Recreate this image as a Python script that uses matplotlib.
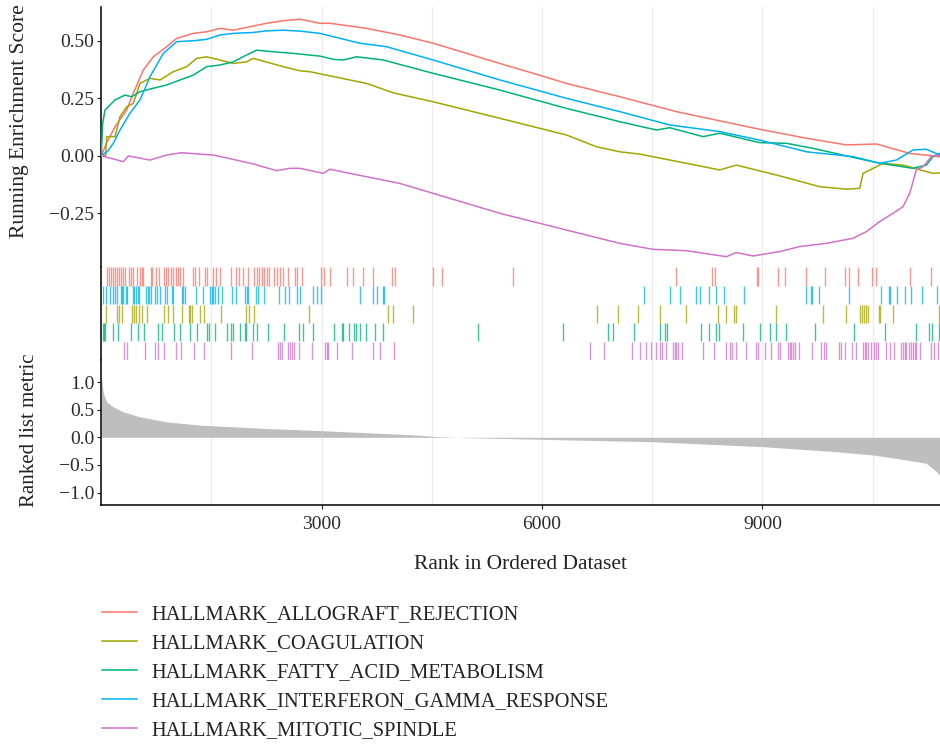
import matplotlib
matplotlib.use("Agg")
import matplotlib.pyplot as plt
from matplotlib.lines import Line2D

plt.rcParams["font.family"] = ["Liberation Serif", "DejaVu Serif"]

# ---- data -------------------------------------------------------------
n_genes = 11410

set_names = [
    "HALLMARK_ALLOGRAFT_REJECTION",
    "HALLMARK_COAGULATION",
    "HALLMARK_FATTY_ACID_METABOLISM",
    "HALLMARK_INTERFERON_GAMMA_RESPONSE",
    "HALLMARK_MITOTIC_SPINDLE",
]
set_colors = ["#F8766D", "#A3A500", "#00B27A", "#00B0F6", "#D072C8"]

# running enrichment score (rank, score)
allograft_rank = [0, 80, 188, 347, 437, 573, 709, 891, 1027, 1253, 1435, 1616, 1797,
                  2069, 2251, 2478, 2705, 2977, 3113, 3612, 4066, 4518, 4973, 5426,
                  5879, 6334, 7058, 7829, 8374, 8963, 9601, 10143, 10551, 11004, 11321, 11410]
allograft_es = [0.0, 0.06, 0.126, 0.199, 0.272, 0.373, 0.431, 0.475, 0.511, 0.533, 0.540,
                0.555, 0.547, 0.565, 0.577, 0.588, 0.595, 0.577, 0.577, 0.555, 0.526,
                0.490, 0.446, 0.402, 0.359, 0.315, 0.257, 0.192, 0.155, 0.115, 0.076,
                0.047, 0.051, 0.010, -0.001, -0.005]

coag_rank = [0, 60, 75, 188, 256, 347, 437, 528, 664, 800, 981, 1163, 1299, 1435, 1616,
             1797, 1979, 2069, 2478, 2705, 2841, 3612, 3975, 4518, 5426, 6334, 6741,
             7058, 7330, 7965, 8418, 8645, 9189, 9779, 10143, 10324, 10369, 10551,
             10641, 10913, 11321, 11410]
coag_es = [0.0, 0.0, 0.083, 0.083, 0.170, 0.213, 0.228, 0.315, 0.337, 0.330, 0.366,
           0.388, 0.424, 0.431, 0.417, 0.402, 0.409, 0.424, 0.388, 0.370, 0.366, 0.315,
           0.274, 0.235, 0.163, 0.090, 0.039, 0.017, 0.007, -0.033, -0.062, -0.041,
           -0.084, -0.135, -0.146, -0.142, -0.077, -0.048, -0.033, -0.041, -0.077,
           -0.075]

fatty_rank = [0, 20, 52, 188, 324, 415, 528, 709, 891, 1072, 1253, 1435, 1616, 1797,
              1979, 2115, 2342, 2614, 2977, 3158, 3294, 3476, 3839, 4518, 5426, 6334,
              6878, 7058, 7557, 7738, 8192, 8418, 8963, 9326, 9689, 10188, 10596, 11049,
              11230, 11321, 11410]
fatty_es = [0.0, 0.141, 0.199, 0.243, 0.264, 0.257, 0.279, 0.294, 0.308, 0.330, 0.351,
            0.388, 0.395, 0.409, 0.439, 0.460, 0.453, 0.446, 0.434, 0.420, 0.417, 0.431,
            0.417, 0.359, 0.286, 0.206, 0.163, 0.148, 0.112, 0.122, 0.083, 0.098, 0.057,
            0.054, 0.032, -0.004, -0.033, -0.055, -0.041, -0.004, 0.010]

ifng_rank = [0, 90, 165, 256, 392, 528, 664, 845, 1027, 1253, 1435, 1616, 1797, 2069,
             2251, 2478, 2705, 2977, 3521, 3884, 4518, 5426, 6334, 7058, 7738, 8418,
             8963, 9601, 10233, 10596, 10823, 11049, 11230, 11367, 11410]
ifng_es = [0.0, 0.02, 0.054, 0.112, 0.185, 0.243, 0.344, 0.446, 0.497, 0.501, 0.507,
           0.526, 0.533, 0.537, 0.544, 0.547, 0.543, 0.533, 0.490, 0.475, 0.417, 0.330,
           0.250, 0.192, 0.134, 0.105, 0.068, 0.017, -0.004, -0.033, -0.019, 0.025,
           0.028, 0.010, 0.005]

mitotic_rank = [0, 301, 369, 664, 891, 1095, 1344, 1525, 1797, 2069, 2387, 2569, 2705,
                3022, 3113, 3385, 4066, 4518, 5426, 6334, 7058, 7512, 7965, 8509, 8645,
                8872, 9235, 9507, 9870, 10233, 10414, 10596, 10777, 10913, 11004, 11094,
                11185, 11299, 11367, 11410]
mitotic_es = [0.0, -0.026, -0.001, -0.019, 0.003, 0.013, 0.007, 0.003, -0.016, -0.036,
              -0.065, -0.055, -0.055, -0.077, -0.059, -0.077, -0.121, -0.164, -0.251,
              -0.324, -0.382, -0.408, -0.414, -0.440, -0.422, -0.437, -0.418, -0.396,
              -0.382, -0.360, -0.331, -0.287, -0.251, -0.222, -0.164, -0.062, -0.048,
              -0.004, 0.003, 0.0]

# ranks of the member genes of each set
allograft_hits = [83, 110, 133, 165, 192, 219, 246, 273, 301, 328, 382, 410, 437, 483,
                  528, 555, 573, 673, 696, 745, 782, 854, 882, 913, 946, 981, 1018, 1049,
                  1072, 1117, 1245, 1280, 1331, 1412, 1435, 1525, 1562, 1616, 1770, 1830,
                  1875, 1925, 1993, 2079, 2115, 2147, 2184, 2215, 2251, 2287, 2355, 2396,
                  2432, 2469, 2546, 2637, 2668, 2728, 2990, 3036, 3113, 3340, 3430, 3557,
                  3694, 3956, 4001, 4518, 4645, 5598, 7829, 8314, 8360, 8926, 8945, 9212,
                  9307, 9589, 9847, 10129, 10178, 10300, 10487, 10541, 11013, 11299]
ifng_hits = [29, 65, 120, 156, 188, 219, 265, 283, 301, 337, 356, 428, 451, 473, 496,
             519, 609, 632, 655, 677, 732, 755, 800, 868, 899, 959, 981, 1095, 1117, 1140,
             1290, 1381, 1480, 1503, 1525, 1548, 1594, 1639, 1775, 1830, 1956, 1979, 2001,
             2106, 2138, 2215, 2423, 2500, 2555, 2660, 2705, 2877, 2940, 2990, 3521, 3694,
             3748, 3830, 3848, 7385, 7748, 7875, 8102, 8147, 8273, 8374, 8473, 8745, 9589,
             9657, 9675, 9770, 10178, 10619, 10722, 10741, 10831, 10945, 11022, 11171,
             11370]
coag_hits = [65, 211, 238, 279, 415, 451, 473, 514, 551, 619, 854, 913, 973, 1095, 1190,
             1208, 1231, 1344, 1399, 1630, 1970, 2015, 2079, 2827, 3898, 3974, 4238, 6749,
             7035, 7307, 7612, 7965, 8396, 8510, 8609, 8636, 9190, 9824, 10143, 10333,
             10360, 10382, 10405, 10437, 10587, 10605, 10777, 11403]
fatty_hits = [20, 38, 56, 156, 233, 401, 505, 582, 777, 823, 990, 1072, 1208, 1307, 1435,
              1462, 1548, 1716, 1761, 1797, 1888, 1956, 1970, 2069, 2115, 2265, 2491,
              2695, 2741, 2877, 3167, 3272, 3294, 3375, 3444, 3466, 3521, 3603, 3725, 3830,
              5122, 6287, 6891, 6967, 7249, 7603, 7675, 7694, 8161, 8269, 8365, 8410, 8736,
              8963, 9108, 9190, 9317, 9721, 10246, 10664, 11095, 11266, 11312, 11398]
mitotic_hits = [315, 347, 596, 732, 777, 854, 1018, 1081, 1263, 1403, 1761, 2056, 2410,
                2432, 2455, 2546, 2569, 2591, 2623, 2695, 2863, 3045, 3068, 3090, 3204,
                3408, 3694, 3793, 3984, 6650, 6840, 7231, 7330, 7421, 7489, 7557, 7612,
                7639, 7684, 7784, 7806, 7829, 7852, 7911, 8192, 8337, 8510, 8555, 8591,
                8636, 8782, 8908, 8940, 9031, 9122, 9212, 9235, 9348, 9371, 9394, 9416,
                9443, 9498, 9680, 9802, 9834, 9870, 10042, 10074, 10120, 10224, 10278,
                10369, 10391, 10414, 10437, 10482, 10514, 10541, 10573, 10677, 10732,
                10786, 10890, 10913, 10936, 10959, 10994, 11026, 11049, 11072, 11095,
                11149, 11299, 11330, 11389]

# ranked list metric (rank, value)
metric_rank = [1, 7, 29, 75, 165, 301, 528, 891, 1344, 1797, 2251, 3000, 3612, 4292,
               4518, 4973, 6006, 7512, 9008, 10006, 10504, 10913, 11230, 11367, 11410]
metric_value = [1.07, 1.04, 0.80, 0.64, 0.55, 0.46, 0.37, 0.28, 0.22, 0.19, 0.16, 0.12,
                0.083, 0.042, 0.018, -0.007, -0.036, -0.08, -0.17, -0.26, -0.32, -0.40,
                -0.47, -0.62, -0.68]

es_curves = [(allograft_rank, allograft_es), (coag_rank, coag_es),
             (fatty_rank, fatty_es), (ifng_rank, ifng_es),
             (mitotic_rank, mitotic_es)]
hit_sets = [allograft_hits, coag_hits, fatty_hits, ifng_hits, mitotic_hits]
# top-to-bottom order of the rug rows (indices into set_names)
rug_order = [0, 3, 1, 2, 4]

x_ticks = [3000, 6000, 9000]
grid_x = [1500, 3000, 4500, 6000, 7500, 9000, 10500]

# ---- figure -----------------------------------------------------------
W, H = 940, 746
fig = plt.figure(figsize=(W / 100, H / 100), dpi=100)

left = 101.2 / W
width = 1 - left - 0.0005


def box(top_px, bottom_px):
    return [left, 1 - bottom_px / H, width, (bottom_px - top_px) / H]


ax_es = fig.add_axes(box(7, 267))
ax_rug = fig.add_axes(box(267, 360))
ax_rank = fig.add_axes(box(360, 504.5))

grid_col = "#EBEBEB"
tick_fs = 14
label_fs = 15.5
text_col = "#222222"

for ax in (ax_es, ax_rug, ax_rank):
    ax.set_xlim(0, n_genes)
    for gx in grid_x:
        ax.axvline(gx, color=grid_col, lw=1.0, zorder=0)
    for s in ("top", "right", "bottom"):
        ax.spines[s].set_visible(False)
    ax.spines["left"].set_linewidth(1.1)
    ax.spines["left"].set_color("black")
    ax.set_xticks([])
    ax.tick_params(axis="y", labelsize=tick_fs, length=3, width=0.8, pad=2,
                   colors=text_col, labelcolor="#2B2B2B")

# running enrichment score
for (rk, es), col in zip(es_curves, set_colors):
    ax_es.plot(rk, es, color=col, lw=1.1, zorder=3)
ax_es.set_ylim(-0.485, 0.648)
ax_es.set_yticks([-0.25, 0.0, 0.25, 0.50])
ax_es.set_yticklabels(["\u22120.25", "0.00", "0.25", "0.50"])

# gene hit rugs
ax_rug.set_ylim(0, 5)
ax_rug.set_yticks([])
for row, idx in enumerate(rug_order):
    y_top = 5 - row
    ax_rug.vlines(hit_sets[idx], y_top - 1, y_top - 0.02, color=set_colors[idx],
                  lw=1.0, alpha=0.75, zorder=3)

# ranked list metric
ax_rank.fill_between(metric_rank, 0, metric_value, color="#BEBEBE", lw=0, zorder=2)
ax_rank.set_ylim(-1.215, 1.398)
ax_rank.set_yticks([-1.0, -0.5, 0.0, 0.5, 1.0])
ax_rank.set_yticklabels(["\u22121.0", "\u22120.5", "0.0", "0.5", "1.0"])
ax_rank.spines["bottom"].set_visible(True)
ax_rank.spines["bottom"].set_linewidth(1.1)
ax_rank.set_xticks(x_ticks)
ax_rank.set_xticklabels([str(t) for t in x_ticks])
ax_rank.tick_params(axis="x", labelsize=tick_fs, length=3, width=0.8,
                    colors=text_col, labelcolor="#2B2B2B", pad=5)
ax_rank.set_xlabel("Rank in Ordered Dataset", fontsize=label_fs, color=text_col,
                   labelpad=16)

# axis titles for the two value panels
fig.text(19.5 / W, 1 - 121.5 / H, "Running Enrichment Score", rotation=90,
         fontsize=label_fs, color=text_col, ha="center", va="center")
fig.text(29.5 / W, 1 - 430 / H, "Ranked list metric", rotation=90,
         fontsize=15, color=text_col, ha="center", va="center")

# legend below the panels
leg_x0, leg_x1, leg_text_x = 102 / W, 137 / W, 151 / W
leg_y0, leg_step = 611.7, 29.0
for i, (name, col) in enumerate(zip(set_names, set_colors)):
    yy = 1 - (leg_y0 + i * leg_step) / H
    fig.add_artist(Line2D([leg_x0, leg_x1], [yy, yy], color=col, lw=1.1,
                          transform=fig.transFigure))
    fig.text(leg_text_x, yy, name, fontsize=14.8, color=text_col,
             ha="left", va="center_baseline")

fig.savefig("out.png", dpi=100)
